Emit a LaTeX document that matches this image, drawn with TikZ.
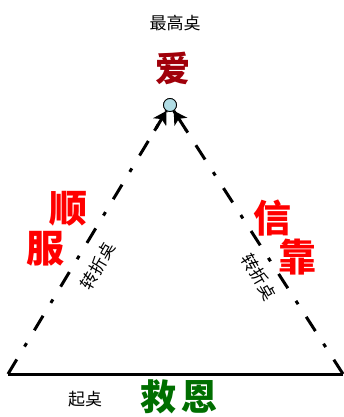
\documentclass[tikz,border=0pt]{standalone}
\usepackage{fontspec}
\newfontfamily\cjk{Noto Sans CJK SC}
\usetikzlibrary{arrows.meta,calc}
\definecolor{lovered}{RGB}{160,0,10}
\definecolor{gracegreen}{RGB}{0,110,0}
\definecolor{tipblue}{RGB}{176,220,228}
\tikzset{
  side/.style={line width=3pt,dash pattern=on 17pt off 15pt on 4pt off 15pt},
  sidetip/.style={line width=3pt,-{Stealth[length=13pt,width=15pt,inset=3.5pt]}},
  bigword/.style={font=\cjk\bfseries\fontsize{38}{38}\selectfont,inner sep=0pt},
  smallword/.style={font=\cjk\fontsize{17}{17}\selectfont,inner sep=0pt}
}
\begin{document}
\begin{tikzpicture}[x=1pt,y=-1pt]
  \useasboundingbox (0,0) rectangle (344,417);
  % corners and top
  \coordinate (bl) at (8,374);
  \coordinate (br) at (343,374);
  \node[circle,draw,fill=tipblue,line width=0.8pt,minimum size=13pt,inner sep=0pt] (apex) at (170,105) {};
  % sides
  \draw[side] (bl) -- (apex);
  \draw[side] (br) -- (apex);
  \draw[sidetip] ($(apex)!30pt!(bl)$) -- (apex);
  \draw[sidetip] ($(apex)!30pt!(br)$) -- (apex);
  \draw[line width=3pt] (bl) -- (br);
  \node[circle,draw,fill=tipblue,line width=0.8pt,minimum size=13pt,inner sep=0pt] at (apex) {};
  % words
  \node[smallword] (top) at (175,23) {最高奌};
  \node[bigword,text=lovered,font=\cjk\bfseries\fontsize{35}{35}\selectfont] (love) at (173,68) {爱};
  \node[bigword,text=red] (shun) at (68,209) {顺};
  \node[bigword,text=red] (fu) at (45,249) {服};
  \node[bigword,text=red] (xin) at (272,218) {信};
  \node[bigword,text=red] (kao) at (297,257) {靠};
  \node[smallword,rotate=60] (turnl) at (98,266) {转折奌};
  \node[smallword,rotate=-60] (turnr) at (259,277) {转折奌};
  \node[smallword] (start) at (85,399) {起奌};
  \node[bigword,text=gracegreen,font=\cjk\bfseries\fontsize{36}{36}\selectfont] (grace) at (179,397) {救\,恩};
\end{tikzpicture}
\end{document}
